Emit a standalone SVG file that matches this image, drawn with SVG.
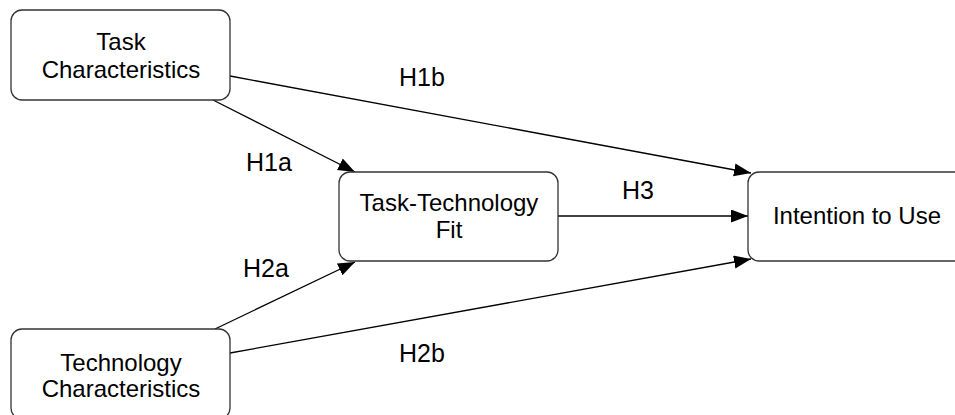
<svg xmlns="http://www.w3.org/2000/svg" width="955" height="415" viewBox="0 0 955 415">
<style>
.node rect{fill:#ffffff;stroke:#333333;stroke-width:1.3}
text{font-family:"Liberation Sans",Arial,sans-serif;font-size:24px;fill:#000000;text-anchor:middle}
.lbl{font-size:25px}
.edge{stroke:#000000;stroke-width:1.3;fill:none;marker-end:url(#arr)}
</style>
<defs>
<marker id="arr" markerUnits="userSpaceOnUse" markerWidth="18" markerHeight="14" refX="17" refY="6.5" orient="auto">
<path d="M0,0 L17,6.5 L0,13 z" fill="#000000"/>
</marker>
</defs>
<rect width="955" height="415" fill="#ffffff"/>
<g id="connectors">
<line class="edge" x1="213" y1="100" x2="355" y2="172"/>
<line class="edge" x1="230" y1="76" x2="751" y2="173"/>
<line class="edge" x1="558" y1="216" x2="748" y2="216"/>
<line class="edge" x1="215" y1="329" x2="355" y2="262"/>
<line class="edge" x1="230" y1="353" x2="751" y2="259"/>
</g>
<g id="labels">
<text class="lbl" x="422" y="86">H1b</text>
<text class="lbl" x="269" y="171">H1a</text>
<text class="lbl" x="638" y="199">H3</text>
<text class="lbl" x="266" y="277">H2a</text>
<text class="lbl" x="422" y="362">H2b</text>
</g>
<g id="task" class="node">
<rect x="11" y="10" width="219" height="90" rx="11"/>
<text x="121" y="50">Task</text>
<text x="121" y="78">Characteristics</text>
</g>
<g id="ttf" class="node">
<rect x="339" y="172" width="219" height="89" rx="11"/>
<text x="449" y="211">Task-Technology</text>
<text x="449" y="238">Fit</text>
</g>
<g id="tech" class="node">
<rect x="11" y="329" width="219" height="90" rx="11"/>
<text x="121" y="371">Technology</text>
<text x="121" y="397">Characteristics</text>
</g>
<g id="itu" class="node">
<rect x="748" y="172" width="219" height="89" rx="11"/>
<text x="857" y="224">Intention to Use</text>
</g>
</svg>
